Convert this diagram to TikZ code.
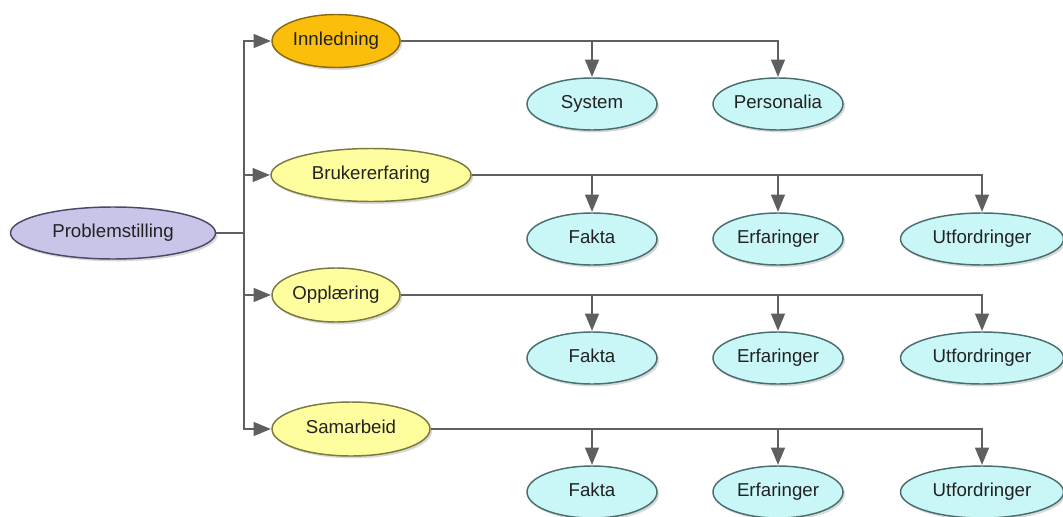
\documentclass[tikz,border=0pt]{standalone}
\usepackage{fontspec}
\setmainfont{Liberation Sans}
\usetikzlibrary{shapes.geometric,arrows.meta,shadows}
\newdimen\pxu \pxu=0.75pt
\definecolor{linegray}{HTML}{5F5F5F}
\definecolor{lavfill}{HTML}{C9C5E9}
\definecolor{lavdraw}{HTML}{4A4A68}
\definecolor{orafill}{HTML}{FBBE0A}
\definecolor{oradraw}{HTML}{8A6A10}
\definecolor{yelfill}{HTML}{FEFE9E}
\definecolor{yeldraw}{HTML}{7A7A40}
\definecolor{cyafill}{HTML}{C9F7F7}
\definecolor{cyadraw}{HTML}{4A6E6E}
\definecolor{txt}{HTML}{222222}
\tikzset{
  ell/.style={ellipse, inner sep=0pt, line width=1.1pt, text=txt,
    font=\fontsize{14}{16}\selectfont, text height=0.72em, text depth=0em,
    drop shadow={opacity=0.3, shadow xshift=1.5pt, shadow yshift=-1.8pt}},
  root/.style={ell, fill=lavfill, draw=lavdraw},
  topic/.style={ell, fill=yelfill, draw=yeldraw},
  first/.style={ell, fill=orafill, draw=oradraw},
  leaf/.style={ell, fill=cyafill, draw=cyadraw, minimum width=130\pxu, minimum height=52\pxu},
  wide/.style={minimum width=163\pxu},
  conn/.style={draw=linegray, line width=1.1pt},
  arr/.style={conn, -{Triangle[length=13pt, width=10.5pt]}, shorten >=0.3pt},
}
\begin{document}
\begin{tikzpicture}[x=0.75pt, y=-0.75pt]
\useasboundingbox (0,0) rectangle (1063,517);
% main nodes
\node[root, minimum width=205\pxu, minimum height=52\pxu] (P) at (113,233) {Problemstilling};
\node[first, minimum width=128\pxu, minimum height=53\pxu] (I) at (336,41) {Innledning};
\node[topic, minimum width=200\pxu, minimum height=53\pxu] (B) at (371,175) {Brukererfaring};
\node[topic, minimum width=128\pxu, minimum height=54\pxu] (O) at (336,295) {Opplæring};
\node[topic, minimum width=158\pxu, minimum height=54\pxu] (S) at (351,429) {Samarbeid};
% leaves
\node[leaf] (I1) at (592,104) {System};
\node[leaf] (I2) at (778,104) {Personalia};
\node[leaf] (B1) at (592,239) {Fakta};
\node[leaf] (B2) at (778,239) {Erfaringer};
\node[leaf, wide] (B3) at (982,239) {Utfordringer};
\node[leaf] (O1) at (592,358) {Fakta};
\node[leaf] (O2) at (778,358) {Erfaringer};
\node[leaf, wide] (O3) at (982,358) {Utfordringer};
\node[leaf] (S1) at (592,492) {Fakta};
\node[leaf] (S2) at (778,492) {Erfaringer};
\node[leaf, wide] (S3) at (982,492) {Utfordringer};
% trunk
\coordinate (t) at (244,233);
\draw[conn] (P.east) -- (t);
\draw[arr] (t) |- (I.west);
\draw[arr] (t) |- (B.west);
\draw[arr] (t) |- (O.west);
\draw[arr] (t) |- (S.west);
% branches
\foreach \p/\c in {I/I1, I/I2, B/B1, B/B2, B/B3, O/O1, O/O2, O/O3, S/S1, S/S2, S/S3}
  \draw[arr] (\p.east) -| (\c.north);
\end{tikzpicture}
\end{document}
